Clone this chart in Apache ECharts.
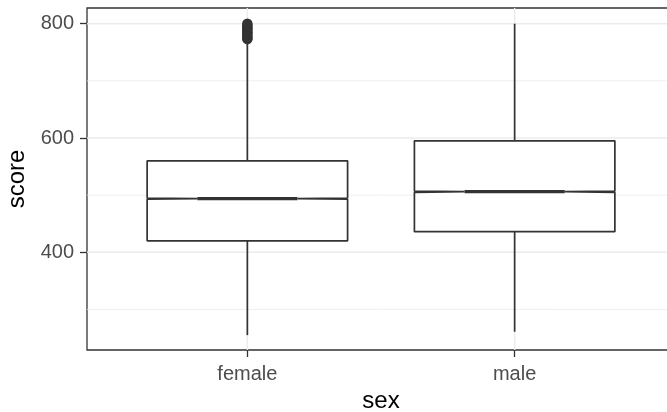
<!DOCTYPE html>
<html>
<head>
<meta charset="utf-8">
<script src="https://cdn.jsdelivr.net/npm/echarts@6/dist/echarts.min.js"></script>
<style>html,body{margin:0;padding:0;background:#fff}#c{width:667px;height:412px}</style>
</head>
<body>
<div id="c"></div>
<script>
// ---- data ----
const categories = ['female', 'male'];
const whiskerLow  = [255, 261];
const q1          = [420, 436];
const notchLow    = [493, 505];
const median      = [494, 506];
const notchHigh   = [495, 507];
const q3          = [560, 595];
const whiskerHigh = [770, 800];
const femaleOutliers = [773, 776, 779, 782, 785, 788, 791, 794, 797, 800];
const maleOutliers = [];
const yTicks = [400, 600, 800];
const yMinorGrid = [300, 500, 700];

const boxData = categories.map((c, i) => [i + 1, whiskerLow[i], q1[i], notchLow[i], median[i], notchHigh[i], q3[i], whiskerHigh[i]]);
const outlierData = [].concat(
  femaleOutliers.map(v => [1, v]),
  maleOutliers.map(v => [2, v])
);
const gridData = [].concat(
  yTicks.map(v => ['h', v, 1]),
  yMinorGrid.map(v => ['h', v, 0]),
  categories.map((c, i) => ['v', i + 1, 1])
);

const LINE = '#333333';
const LW = 1.7;
const chart = echarts.init(document.getElementById('c'), null, {renderer: 'canvas'});
chart.setOption({
  animation: false,
  backgroundColor: '#ffffff',
  grid: {left: 87, top: 8, width: 588, height: 342, show: true, borderColor: LINE, borderWidth: 1.3,
    backgroundColor: 'transparent', outerBoundsMode: 'none', containLabel: false},
  xAxis: {
    type: 'value', min: 0.4, max: 2.6,
    name: 'sex', nameLocation: 'middle', nameGap: 39,
    nameTextStyle: {color: '#000', fontSize: 24, fontFamily: 'Liberation Sans'},
    axisLine: {show: false},
    axisTick: {show: true, customValues: [1, 2], length: 7, lineStyle: {color: LINE, width: 1.3}},
    axisLabel: {show: true, customValues: [1, 2], margin: 14, color: '#4D4D4D', fontSize: 20, fontFamily: 'Liberation Sans',
      formatter: v => categories[Math.round(v) - 1] || ''},
    splitLine: {show: false}
  },
  yAxis: {
    type: 'value', min: 229, max: 827.5,
    name: 'score', nameLocation: 'middle', nameGap: 53, nameRotate: 90,
    nameTextStyle: {color: '#000', fontSize: 24, fontFamily: 'Liberation Sans'},
    axisLine: {show: false},
    axisTick: {show: true, customValues: yTicks, length: 7, lineStyle: {color: LINE, width: 1.3}},
    axisLabel: {show: true, customValues: yTicks, margin: 13, color: '#4D4D4D', fontSize: 20, fontFamily: 'Liberation Sans'},
    splitLine: {show: false}
  },
  series: [
    {
      type: 'custom', name: 'grid', silent: true, z: 1,
      data: gridData,
      encode: {x: -1, y: -1},
      clip: true,
      renderItem: function (params, api) {
        const kind = gridData[params.dataIndex][0];
        const v = gridData[params.dataIndex][1];
        const major = gridData[params.dataIndex][2] === 1;
        let p1, p2;
        if (kind === 'h') { p1 = api.coord([0.4, v]); p2 = api.coord([2.6, v]); }
        else { p1 = api.coord([v, 229]); p2 = api.coord([v, 827.5]); }
        return {type: 'line', shape: {x1: p1[0], y1: p1[1], x2: p2[0], y2: p2[1]},
          style: {stroke: '#EBEBEB', lineWidth: major ? 1.4 : 0.8}};
      }
    },
    {
      type: 'custom', name: 'box', z: 3,
      data: boxData,
      encode: {x: 0, y: [1, 2, 3, 4, 5, 6, 7]},
      renderItem: function (params, api) {
        const x = api.value(0);
        const hw = 0.375, nw = 0.1875;
        const c = (xx, yy) => api.coord([xx, yy]);
        const lo = api.value(1), a = api.value(2), nl = api.value(3), m = api.value(4), nh = api.value(5), b = api.value(6), hi = api.value(7);
        const pts = [c(x - hw, b), c(x + hw, b), c(x + hw, nh), c(x + nw, m), c(x + hw, nl), c(x + hw, a), c(x - hw, a), c(x - hw, nl), c(x - nw, m), c(x - hw, nh)];
        const wTop1 = c(x, b), wTop2 = c(x, hi), wBot1 = c(x, a), wBot2 = c(x, lo);
        const m1 = c(x - nw, m), m2 = c(x + nw, m);
        return {type: 'group', children: [
          {type: 'line', shape: {x1: wTop1[0], y1: wTop1[1], x2: wTop2[0], y2: wTop2[1]}, style: {stroke: LINE, lineWidth: LW}},
          {type: 'line', shape: {x1: wBot1[0], y1: wBot1[1], x2: wBot2[0], y2: wBot2[1]}, style: {stroke: LINE, lineWidth: LW}},
          {type: 'polygon', shape: {points: pts}, style: {fill: '#ffffff', stroke: LINE, lineWidth: LW, lineJoin: 'bevel'}},
          {type: 'line', shape: {x1: m1[0], y1: m1[1], x2: m2[0], y2: m2[1]}, style: {stroke: LINE, lineWidth: 3.2}}
        ]};
      }
    },
    {
      type: 'scatter', name: 'outliers', z: 4,
      data: outlierData,
      symbol: 'circle', symbolSize: 10.5,
      itemStyle: {color: LINE, opacity: 1},
      silent: true
    }
  ]
});
</script>
</body>
</html>
